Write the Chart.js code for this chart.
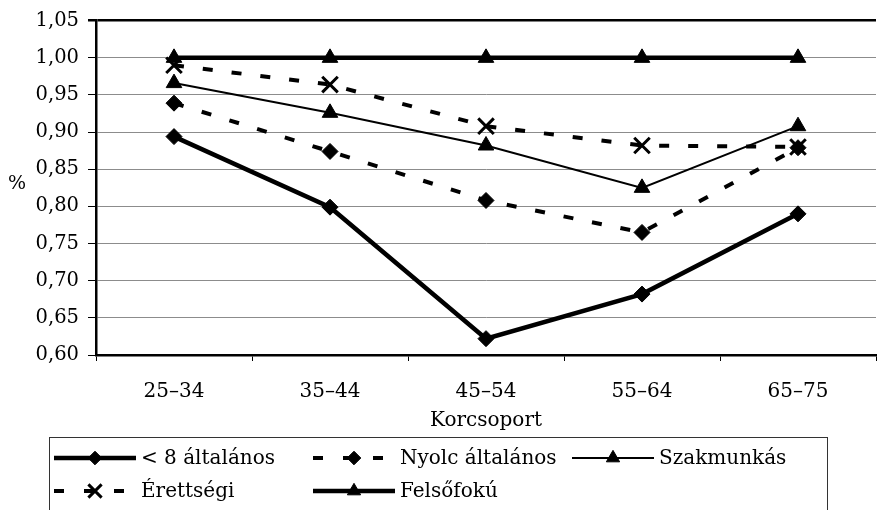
<!DOCTYPE html>
<html>
<head>
<meta charset="utf-8">
<script src="https://cdn.jsdelivr.net/npm/chart.js@4/dist/chart.umd.min.js"></script>
<style>
html,body{margin:0;padding:0;background:#fff;overflow:hidden;width:882px;height:510px;}
#wrap{position:relative;width:890px;height:510px;}
</style>
</head>
<body>
<div id="wrap"><canvas id="c" width="890" height="510"></canvas></div>
<script>
const categories = ['25–34', '35–44', '45–54', '55–64', '65–75'];
const below8 = [0.894, 0.799, 0.622, 0.682, 0.790];
const nyolc = [0.939, 0.874, 0.808, 0.765, 0.879];
const szakmunkas = [0.966, 0.926, 0.882, 0.825, 0.908];
const erettsegi = [0.990, 0.964, 0.908, 0.882, 0.880];
const felsofoku = [1.000, 1.000, 1.000, 1.000, 1.000];
const seriesNames = ['< 8 általános', 'Nyolc általános', 'Szakmunkás', 'Érettségi', 'Felsőfokú'];
const yMin = 0.60, yMax = 1.05, yStep = 0.05;
const xTitle = 'Korcsoport';
const yTitle = '%';

const FONT = 'DejaVu Serif';

const datasets = [
  {label: seriesNames[0], data: below8, borderColor:'#000', backgroundColor:'#000', borderWidth:4.5,
   pointStyle:'rectRot', pointRadius:8, pointBorderWidth:1, borderDash:[]},
  {label: seriesNames[1], data: nyolc, borderColor:'#000', backgroundColor:'#000', borderWidth:4,
   pointStyle:'rectRot', pointRadius:8, pointBorderWidth:1, borderDash:[10,19]},
  {label: seriesNames[2], data: szakmunkas, borderColor:'#000', backgroundColor:'#000', borderWidth:2,
   pointStyle:'triangle', pointRadius:9, pointBorderWidth:1, borderDash:[]},
  {label: seriesNames[3], data: erettsegi, borderColor:'#000', backgroundColor:'#000', borderWidth:4,
   pointStyle:'crossRot', pointRadius:11, pointBorderWidth:3, borderDash:[10,19]},
  {label: seriesNames[4], data: felsofoku, borderColor:'#000', backgroundColor:'#000', borderWidth:4.5,
   pointStyle:'triangle', pointRadius:9, pointBorderWidth:1, borderDash:[]}
];
datasets.forEach(d => { d.tension = 0; d.fill = false; d.pointBackgroundColor = '#000'; d.pointBorderColor = '#000'; d.clip = false; });

function drawMarker(ctx, style, x, y, r, bw) {
  ctx.save();
  ctx.setLineDash([]);
  ctx.fillStyle = '#000'; ctx.strokeStyle = '#000'; ctx.lineWidth = bw;
  ctx.beginPath();
  if (style === 'rectRot') {
    ctx.moveTo(x, y - r); ctx.lineTo(x + r, y); ctx.lineTo(x, y + r); ctx.lineTo(x - r, y); ctx.closePath();
    ctx.fill(); ctx.stroke();
  } else if (style === 'triangle') {
    const s = Math.sqrt(3) / 2 * r;
    ctx.moveTo(x, y - r); ctx.lineTo(x + s, y + r / 2); ctx.lineTo(x - s, y + r / 2); ctx.closePath();
    ctx.fill(); ctx.stroke();
  } else if (style === 'crossRot') {
    const o = r * Math.SQRT1_2;
    ctx.moveTo(x - o, y - o); ctx.lineTo(x + o, y + o);
    ctx.moveTo(x + o, y - o); ctx.lineTo(x - o, y + o);
    ctx.stroke();
  }
  ctx.restore();
}

const extras = {
  id: 'extras',
  afterDraw(chart) {
    const ctx = chart.ctx;
    ctx.save();
    ctx.fillStyle = '#000';
    ctx.font = '19px "' + FONT + '"';
    ctx.textAlign = 'center'; ctx.textBaseline = 'middle';
    ctx.fillText(yTitle, 17, 184);
    ctx.strokeStyle = '#333'; ctx.lineWidth = 1;
    ctx.strokeRect(49.5, 437.5, 778, 80);
    const colX = [54, 313, 572];
    const rowY = [458, 491];
    ctx.font = '20px "' + FONT + '"';
    ctx.textAlign = 'left';
    datasets.forEach((d, i) => {
      const col = i % 3, row = Math.floor(i / 3);
      const x0 = colX[col], y = rowY[row];
      const x1 = x0 + 82;
      ctx.save();
      ctx.strokeStyle = '#000'; ctx.lineWidth = d.borderWidth;
      ctx.setLineDash(d.borderDash.length ? [10, 20] : []);
      ctx.beginPath(); ctx.moveTo(x0, y); ctx.lineTo(x1, y); ctx.stroke();
      ctx.restore();
      drawMarker(ctx, d.pointStyle, (x0 + x1) / 2, y, d.pointRadius * 0.85, d.pointBorderWidth);
      ctx.fillStyle = '#000';
      ctx.fillText(d.label, x0 + 87, y + 1);
    });
    ctx.restore();
  }
};

new Chart(document.getElementById('c'), {
  type: 'line',
  data: { labels: categories, datasets: datasets },
  options: {
    responsive: false,
    animation: false,
    devicePixelRatio: 1,
    layout: { padding: { left: 0, right: 4, top: 18, bottom: 73 } },
    plugins: { legend: { display: false }, tooltip: { enabled: false } },
    scales: {
      x: {
        type: 'category',
        offset: true,
        afterFit(s) { s.height = 82; },
        grid: { offset: true, drawOnChartArea: false, drawTicks: true, tickLength: 6, tickColor: '#000', lineWidth: 1 },
        border: { color: '#000', width: 2.5 },
        ticks: { color: '#000', padding: 19, font: { family: FONT, size: 20 }, maxRotation: 0 },
        title: { display: true, text: xTitle, color: '#000', font: { family: FONT, size: 20 }, padding: { top: 0, bottom: 4 } }
      },
      y: {
        min: yMin, max: yMax,
        afterFit(s) { s.width = 96; },
        afterBuildTicks(s) {
          const t = [];
          for (let i = 0; i <= Math.round((yMax - yMin) / yStep); i++) t.push({ value: +(yMin + i * yStep).toFixed(2) });
          s.ticks = t;
        },
        grid: {
          color: ctx => (ctx.tick && Math.abs(ctx.tick.value - yMax) < 1e-6) ? '#000' : '#8c8c8c',
          lineWidth: ctx => (ctx.tick && Math.abs(ctx.tick.value - yMax) < 1e-6) ? 2.5 : 1,
          tickColor: '#000', tickLength: 8, drawTicks: true
        },
        border: { color: '#000', width: 2.5 },
        ticks: {
          color: '#000', padding: 9, font: { family: FONT, size: 19.5 },
          callback: v => Number(v).toFixed(2).replace('.', ',')
        }
      }
    }
  },
  plugins: [extras]
});
</script>
</body>
</html>
